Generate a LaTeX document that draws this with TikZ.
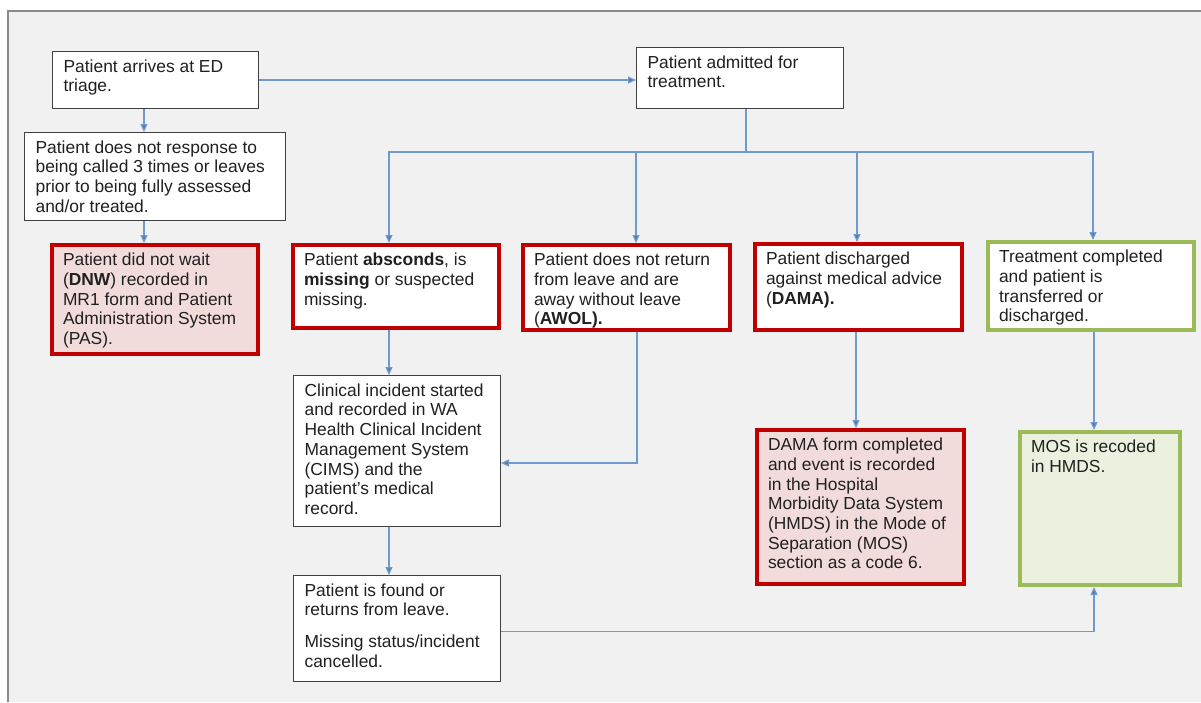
\documentclass[tikz,border=0pt]{standalone}
\usepackage{fontspec}
\setmainfont{Liberation Sans}
\usetikzlibrary{arrows.meta}

\definecolor{paper}{HTML}{F1F1F1}
\definecolor{framegrey}{HTML}{8A8A8A}
\definecolor{boxline}{HTML}{404040}
\definecolor{alertred}{HTML}{C00000}
\definecolor{alertpink}{HTML}{F2DCDB}
\definecolor{donegreen}{HTML}{9BBB59}
\definecolor{donepale}{HTML}{EBF1DE}
\definecolor{flowblue}{HTML}{6F9AD0}
\definecolor{inkgrey}{HTML}{202020}

\tikzstyle{plainbox} = [draw=boxline, fill=white, line width=1.2pt, inner xsep=11pt, inner ysep=8pt, anchor=north west]
\tikzstyle{redbox} = [draw=alertred, fill=alertpink, line width=4pt, inner xsep=11pt, inner ysep=8pt, anchor=north west]
\tikzstyle{redopen} = [redbox, fill=white]
\tikzstyle{greenopen} = [redbox, draw=donegreen, fill=white]
\tikzstyle{greenbox} = [redbox, draw=donegreen, fill=donepale]
\tikzstyle{wire} = [draw=flowblue, line width=1.2pt]
\tikzstyle{link} = [wire, -{Triangle[length=8pt,width=7pt,fill=flowblue!80!black]}]

\newcommand{\boxtext}[3]{\parbox[t][#2pt][t]{#1pt}{\raggedright #3}}

\begin{document}
\begin{tikzpicture}[x=1pt, y=-1pt, every node/.style={text=inkgrey, font=\fontsize{17.4}{19.7}\selectfont}]
\useasboundingbox (0,0) rectangle (1201,702);
\fill[paper] (8,11) rectangle (1201,702);
\draw[framegrey, line width=2pt] (8,702) -- (8,11) -- (1201,11);

\node[plainbox] (triage) at (52,51) {\boxtext{183.8}{40.8}{Patient arrives at ED\\ triage.}};
\node[plainbox] (noresp) at (24,132) {\boxtext{238.8}{71.8}{Patient does not response to\\ being called 3 times or leaves\\ prior to being fully assessed\\ and/or treated.}};
\node[redbox] (dnw) at (50,243) {\boxtext{184}{93}{Patient did not wait\\ (\textbf{DNW}) recorded in\\ MR1 form and Patient\\ Administration System\\ (PAS).}};
\node[plainbox] (admit) at (636,47) {\boxtext{184.8}{44.8}{Patient admitted for\\ treatment.}};
\node[redopen] (absc) at (291,243) {\boxtext{184}{67}{Patient \textbf{absconds}, is\\ \textbf{missing} or suspected\\ missing.}};
\node[redopen] (awol) at (521,243) {\boxtext{185}{69}{Patient does not return\\ from leave and are\\ away without leave\\ (\textbf{AWOL).}}};
\node[redopen] (dama) at (753,242) {\boxtext{185}{70}{Patient discharged\\ against medical advice\\ (\textbf{DAMA).}}};
\node[greenopen] (treat) at (986,240) {\boxtext{184}{72}{Treatment completed\\ and patient is\\ transferred or\\ discharged.}};
\node[plainbox] (clinical) at (293,375) {\boxtext{184.8}{134.8}{Clinical incident started\\ and recorded in WA\\ Health Clinical Incident\\ Management System\\ (CIMS) and the\\ patient’s medical\\ record.}};
\node[plainbox] (found) at (293,575) {\boxtext{184.8}{89.8}{Patient is found or\\ returns from leave.\\[12pt] Missing status/incident\\ cancelled.}};
\node[redbox] (damaform) at (755,428) {\boxtext{185}{138}{DAMA form completed\\ and event is recorded\\ in the Hospital\\ Morbidity Data System\\ (HMDS) in the Mode of\\ Separation (MOS)\\ section as a code 6.}};
\node[greenbox] (mos) at (1018,430) {\boxtext{138}{137}{MOS is recoded\\ in HMDS.}};

\draw[link] (triage.east) -- (triage.east -| admit.west);
\draw[link] ([xshift=92]triage.south west) -- ([xshift=92]triage.south west |- noresp.north);
\draw[link] ([xshift=120]noresp.south west) -- ([xshift=120]noresp.south west |- dnw.north);

\path ([xshift=110]admit.south west) ++(0,43) coordinate (fork);
\draw[wire] ([xshift=110]admit.south west) -- (fork);
\foreach \n/\dx in {absc/98, awol/115, dama/104, treat/107}
  \draw[link] (fork) -| ([xshift=\dx]\n.north west);

\draw[link] ([xshift=98]absc.south west) -- ([xshift=96]clinical.north west);
\draw[link] ([xshift=116]awol.south west) |- ([yshift=-88]clinical.north east);
\draw[link] ([xshift=96]clinical.south west) -- ([xshift=96]found.north west);
\draw[link] ([xshift=103]dama.south west) -- ([xshift=101]damaform.north west);
\draw[link] ([xshift=108]treat.south west) -- ([xshift=76]mos.north west);
\draw[link] ([yshift=-3]found.east) -| ([xshift=76]mos.south west);
\end{tikzpicture}
\end{document}
